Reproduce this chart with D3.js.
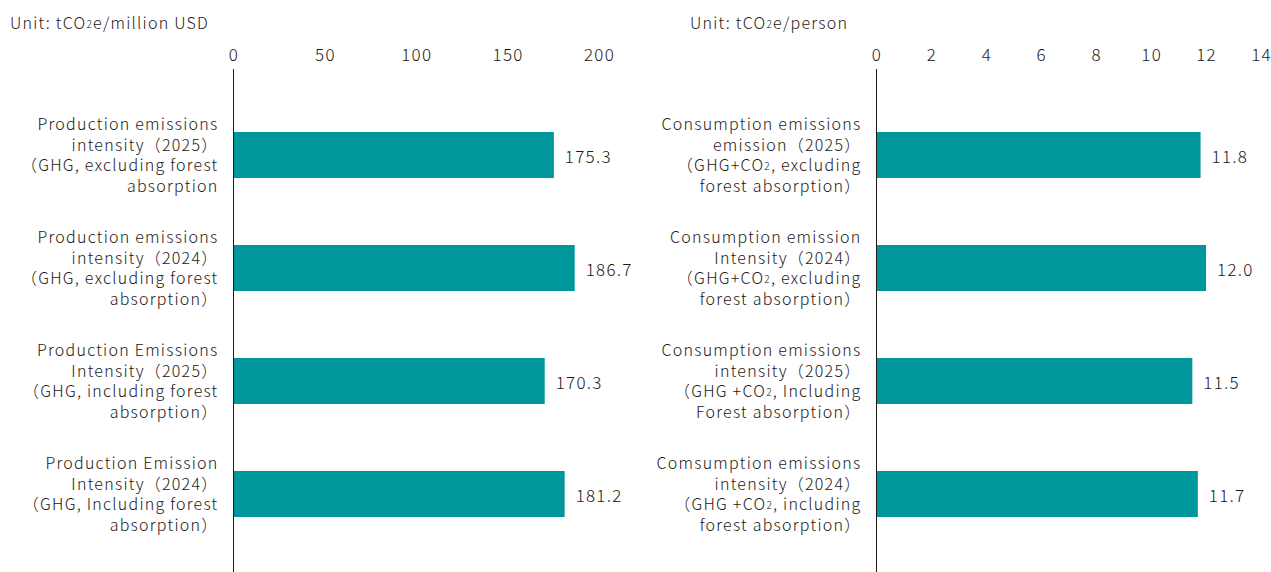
<!DOCTYPE html>
<html>
<head>
<meta charset="utf-8">
<script src="https://cdn.jsdelivr.net/npm/d3@7"></script>
<style>
  html, body { margin: 0; padding: 0; background: #fff; }
  svg text { font-family: "Noto Sans CJK JP", "Noto Sans", sans-serif; font-weight: 300; fill: #231815; letter-spacing: 1.25px; }
</style>
</head>
<body>
<svg id="chart" width="1271" height="572"></svg>
<script>
// Production-based intensity (tCO2e per million USD)
const productionLabels = [
  ["Production emissions", "intensity（2025）", "（GHG, excluding forest", "absorption"],
  ["Production emissions", "intensity（2024）", "（GHG, excluding forest", "absorption）"],
  ["Production Emissions", "Intensity（2025）", "（GHG, including forest", "absorption）"],
  ["Production Emission", "Intensity（2024）", "（GHG, Including forest", "absorption）"]
];
const productionValues = [175.3, 186.7, 170.3, 181.2];
const productionTicks = [0, 50, 100, 150, 200];

// Consumption-based emissions (tCO2e per person); "_2" marks a subscript 2
const consumptionLabels = [
  ["Consumption emissions", "emission（2025）", "（GHG+CO_2, excluding", "forest absorption）"],
  ["Consumption emission", "Intensity（2024）", "（GHG+CO_2, excluding", "forest absorption）"],
  ["Consumption emissions", "intensity（2025）", "（GHG +CO_2, Including", "Forest absorption）"],
  ["Comsumption emissions", "intensity（2024）", "（GHG +CO_2, including", "forest absorption）"]
];
const consumptionValues = [11.8, 12.0, 11.5, 11.7];
const consumptionTicks = [0, 2, 4, 6, 8, 10, 12, 14];

const svg = d3.select("#chart");
const barColor = "#00979a";

// write a string into a text/tspan element, turning "_2" into a small subscript
function richText(sel, str) {
  const parts = str.split("_2");
  parts.forEach((p, i) => {
    const t = sel.append("tspan").text(p);
    if (i > 0) t.attr("dy", -1);
    if (i < parts.length - 1) {
      sel.append("tspan").attr("font-size", "10px").attr("dy", 1).text("2");
    }
  });
}

function drawPanel(opts) {
  const { axisX, xMax, unit, unitX, labels, values, ticks, fmt } = opts;
  const ids = labels.map((_, i) => i);

  const x = d3.scaleLinear().domain([0, opts.domainMax]).range([axisX, xMax]);
  const y = d3.scaleBand().domain(ids).range([98.5, 550.5])
    .paddingInner(0.593).paddingOuter(0.2965);

  const g = svg.append("g");

  // unit caption
  const u = g.append("text").attr("x", unitX).attr("y", 22)
    .attr("dominant-baseline", "central").attr("font-size", "16px");
  richText(u, unit);

  // top axis: labels only, no domain line or tick marks
  const axis = g.append("g").attr("transform", "translate(0,53)")
    .call(d3.axisTop(x).tickValues(ticks).tickSize(0).tickPadding(0).tickFormat(d3.format("d")));
  axis.select(".domain").remove();
  axis.selectAll("text")
    .attr("font-size", "17px")
    .attr("dy", null)
    .attr("dominant-baseline", "central")
    .style("font-family", '"Noto Sans CJK JP", "Noto Sans", sans-serif')
    .attr("fill", "#231815");

  // bars
  g.selectAll("rect.bar").data(values).join("rect")
    .attr("class", "bar")
    .attr("x", x(0))
    .attr("y", (d, i) => y(i))
    .attr("width", d => x(d) - x(0))
    .attr("height", y.bandwidth())
    .attr("fill", barColor);

  // value labels
  g.selectAll("text.val").data(values).join("text")
    .attr("class", "val")
    .attr("x", d => x(d) + 11)
    .attr("y", (d, i) => y(i) + y.bandwidth() / 2)
    .attr("dominant-baseline", "central")
    .attr("font-size", "17px")
    .text(d => fmt(d));

  // category labels: one right-aligned text block per bar, one tspan per line
  const lineH = 20.7;
  labels.forEach((lines, i) => {
    const cy = y(i) + y.bandwidth() / 2 - 1;
    const t = g.append("text")
      .attr("text-anchor", "end")
      .attr("dominant-baseline", "central")
      .attr("font-size", "16px");
    lines.forEach((line, j) => {
      const row = t.append("tspan")
        .attr("x", axisX - 15)
        .attr("y", cy + (j - (lines.length - 1) / 2) * lineH)
        .attr("dominant-baseline", "central");
      richText(row, line);
    });
  });

  // vertical baseline
  g.append("line")
    .attr("x1", x(0)).attr("x2", x(0))
    .attr("y1", 69).attr("y2", 572)
    .attr("stroke", "#231815").attr("stroke-width", 1);
}

drawPanel({
  axisX: 233.5, xMax: 599, domainMax: 200,
  unit: "Unit: tCO_2e/million USD", unitX: 10,
  labels: productionLabels, values: productionValues, ticks: productionTicks,
  fmt: d3.format(".1f")
});

drawPanel({
  axisX: 876.5, xMax: 1261, domainMax: 14,
  unit: "Unit: tCO_2e/person", unitX: 690,
  labels: consumptionLabels, values: consumptionValues, ticks: consumptionTicks,
  fmt: d3.format(".1f")
});
</script>
</body>
</html>
